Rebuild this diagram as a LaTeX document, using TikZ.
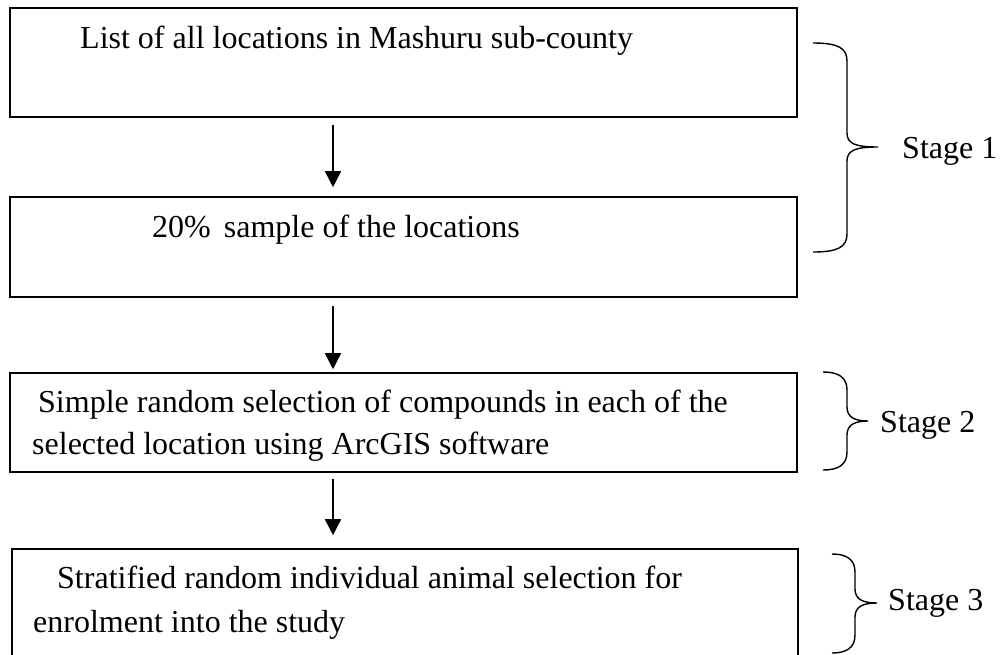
\documentclass[tikz,border=0pt]{standalone}
\usepackage{fontspec}
\setmainfont{Liberation Serif}
\usetikzlibrary{arrows.meta}
\newcommand\wordbrace[6]{% #1 xl, #2 xv, #3 xt, #4 yt, #5 ym, #6 yb
  \draw[bracestyle] (#1,#4) .. controls (#2-9,#4) and (#2,#4+5) .. (#2,#4+18)
    -- (#2,#5-14) .. controls (#2,#5-3) and (#2+9,#5) .. (#3,#5)
    .. controls (#2+9,#5) and (#2,#5+3) .. (#2,#5+14)
    -- (#2,#6-18) .. controls (#2,#6-5) and (#2-9,#6) .. (#1,#6);}
\begin{document}
\begin{tikzpicture}[x=1pt,y=-1pt,
  box/.style={draw,line width=1.6pt,inner sep=0pt},
  txt/.style={anchor=base west,inner sep=0pt,font=\fontsize{32}{38}\selectfont},
  arr/.style={line width=1.6pt,-{Triangle[length=16pt,width=16pt]}},
  bracestyle/.style={line width=1.4pt}]
\useasboundingbox (0,0) rectangle (1004,654);
\clip (0,0) rectangle (1004,654);
% boxes
\node[box, minimum width=787pt, minimum height=109pt] (b1) at (403.5,62.5) {};
\node[box, minimum width=787pt, minimum height=100pt] (b2) at (403.5,247) {};
\node[box, minimum width=787pt, minimum height=99pt] (b3) at (403.5,422.5) {};
\node[box, minimum width=786pt, minimum height=131pt] (b4) at (405,614.5) {};
% texts
\node[txt] (t1) at (80,48) {List of all locations in Mashuru sub-county};
\node[txt] (t2) at (152,237) {20\%\hspace{5pt} sample of the locations};
\node[txt] (t3a) at (38,412) {Simple random selection of compounds in each of the};
\node[txt] (t3b) at (32,454) {selected location using ArcGIS software};
\node[txt] (t4a) at (57,588) {Stratified random individual animal selection for};
\node[txt] (t4b) at (33,632) {enrolment into the study};
% arrows
\coordinate (ax) at (333,0);
\draw[arr, shorten <=7pt, shorten >=9pt] (b1.south -| ax) -- (b2.north -| ax);
\draw[arr, shorten <=8pt, shorten >=3pt] (b2.south -| ax) -- (b3.north -| ax);
\draw[arr, shorten <=6pt, shorten >=13pt] (b3.south -| ax) -- (b4.north -| ax);
% braces
\wordbrace{813}{847}{878}{43}{147}{252}
\wordbrace{823}{847}{868}{372}{421}{470}
\wordbrace{832}{855}{877}{554}{603}{653}
% stage labels
\node[txt] (s1) at (902,158) {Stage 1};
\node[txt] (s2) at (880,432) {Stage 2};
\node[txt] (s3) at (888,610) {Stage 3};
\end{tikzpicture}
\end{document}
